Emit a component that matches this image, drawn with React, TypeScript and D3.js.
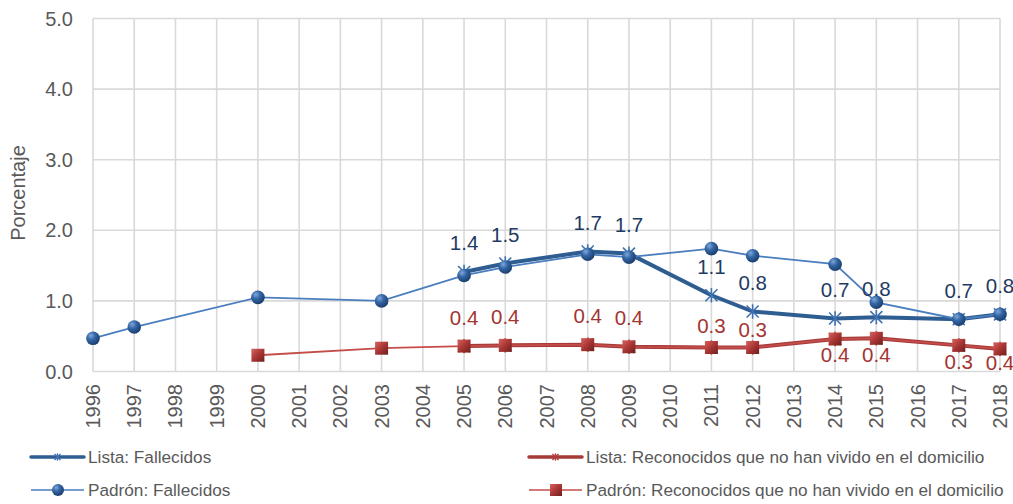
import React from "react";
import * as d3 from "d3";

const years = d3.range(1996, 2019).map(String);
const yTicks = [0, 1, 2, 3, 4, 5];

const listaFallYears = ["2005", "2006", "2008", "2009", "2011", "2012", "2014", "2015", "2017", "2018"];
const listaFallValues = [1.41, 1.53, 1.70, 1.67, 1.08, 0.85, 0.75, 0.77, 0.74, 0.81];
const listaFallLabels = ["1.4", "1.5", "1.7", "1.7", "1.1", "0.8", "0.7", "0.8", "0.7", "0.8"];

const padronFallYears = ["1996", "1997", "2000", "2003", "2005", "2006", "2008", "2009", "2011", "2012", "2014", "2015", "2017", "2018"];
const padronFallValues = [0.47, 0.63, 1.05, 1.0, 1.36, 1.48, 1.66, 1.62, 1.74, 1.64, 1.52, 0.98, 0.74, 0.81];

const listaRecYears = ["2005", "2006", "2008", "2009", "2011", "2012", "2014", "2015", "2017", "2018"];
const listaRecValues = [0.36, 0.37, 0.38, 0.35, 0.34, 0.34, 0.46, 0.47, 0.37, 0.32];
const listaRecLabels = ["0.4", "0.4", "0.4", "0.4", "0.3", "0.3", "0.4", "0.4", "0.3", "0.4"];

const padronRecYears = ["2000", "2003", "2005", "2006", "2008", "2009", "2011", "2012", "2014", "2015", "2017", "2018"];
const padronRecValues = [0.23, 0.33, 0.36, 0.37, 0.38, 0.35, 0.34, 0.34, 0.46, 0.47, 0.37, 0.32];

const FONT = "'Liberation Sans', Arial, sans-serif";

// label placement (pixel offsets of the label centre from its point)
const redLabelDy = [-29, -29, -29, -29, -22, -18, 15, 16, 16, 14];

export default function App() {
  const W = 1013, H = 504;
  const left = 93, right = 1000, top = 18.5, bottom = 371.5;
  const x = d3.scalePoint<string>().domain(years).range([left, right]);
  const y = d3.scaleLinear().domain([0, 5]).range([bottom, top]);

  const line = (ys: string[], vs: number[]) =>
    d3.line<number>().x((_, i) => x(ys[i])!).y((v) => y(v))(vs) || "";

  const star = (cx: number, cy: number, s: number, color: string, w: number, key: string) => (
    <g key={key} stroke={color} strokeWidth={w} fill="none">
      <line x1={cx - s} y1={cy - s} x2={cx + s} y2={cy + s} />
      <line x1={cx - s} y1={cy + s} x2={cx + s} y2={cy - s} />
      <line x1={cx} y1={cy - s * 1.2} x2={cx} y2={cy + s * 1.2} />
    </g>
  );

  const blueLabel = "#1F3B63";
  const redLabel = "#A33533";
  const tickColor = "#595959";

  return (
    <svg width={W} height={H} style={{ position: "absolute", left: 0, top: 0 }}>
      <defs>
        <radialGradient id="ball" cx="35%" cy="30%" r="70%">
          <stop offset="0%" stopColor="#7FA8DA" />
          <stop offset="45%" stopColor="#3466A6" />
          <stop offset="100%" stopColor="#1B3F6E" />
        </radialGradient>
        <linearGradient id="sq" x1="0" y1="0" x2="1" y2="1">
          <stop offset="0%" stopColor="#D8625E" />
          <stop offset="50%" stopColor="#A83634" />
          <stop offset="100%" stopColor="#6E1E1D" />
        </linearGradient>
      </defs>
      <rect width={W} height={H} fill="#fff" />
      {/* grid */}
      <g stroke="#D9D9D9" strokeWidth={1.6}>
        {yTicks.map((t) => (
          <line key={"h" + t} x1={left} x2={right} y1={y(t)} y2={y(t)} />
        ))}
        {years.map((yr) => (
          <line key={"v" + yr} x1={x(yr)} x2={x(yr)} y1={top} y2={bottom} />
        ))}
      </g>
      {/* y ticks */}
      <g fontFamily={FONT} fontSize={20} fill={tickColor} textAnchor="end">
        {yTicks.map((t) => (
          <text key={t} x={73} y={y(t) + 7}>{d3.format(".1f")(t)}</text>
        ))}
      </g>
      <text
        fontFamily={FONT}
        fontSize={20}
        fill={tickColor}
        textAnchor="middle"
        transform={`translate(25, ${193}) rotate(-90)`}
      >
        Porcentaje
      </text>
      {/* x ticks */}
      <g fontFamily={FONT} fontSize={20} fill={tickColor} textAnchor="end">
        {years.map((yr) => (
          <text key={yr} transform={`translate(${x(yr)! + 7}, 384) rotate(-90)`}>{yr}</text>
        ))}
      </g>
      {/* lines */}
      <path d={line(listaFallYears, listaFallValues)} fill="none" stroke="#2E5D91" strokeWidth={4} strokeLinejoin="round" />
      {listaFallYears.map((yr, i) => star(x(yr)!, y(listaFallValues[i]), 6, "#3F72B0", 1.6, "lf" + yr))}
      <path d={line(listaRecYears, listaRecValues)} fill="none" stroke="#A53A38" strokeWidth={4} strokeLinejoin="round" />
      {listaRecYears.map((yr, i) => star(x(yr)!, y(listaRecValues[i]), 6, "#B0403D", 1.6, "lr" + yr))}
      <path d={line(padronFallYears, padronFallValues)} fill="none" stroke="#4A7EBF" strokeWidth={1.8} />
      {padronFallYears.map((yr, i) => (
        <circle key={"pf" + yr} cx={x(yr)} cy={y(padronFallValues[i])} r={6.8} fill="url(#ball)" />
      ))}
      <path d={line(padronRecYears, padronRecValues)} fill="none" stroke="#C44D4A" strokeWidth={1.8} />
      {padronRecYears.map((yr, i) => (
        <rect key={"pr" + yr} x={x(yr)! - 6.5} y={y(padronRecValues[i]) - 6.5} width={13} height={13} fill="url(#sq)" />
      ))}
      {/* labels */}
      <g fontFamily={FONT} fontSize={20.5} fill={blueLabel} textAnchor="middle">
        {listaFallYears.map((yr, i) => (
          <text key={yr} x={x(yr)} y={y(listaFallValues[i]) - 29 + 7.5}>{listaFallLabels[i]}</text>
        ))}
      </g>
      <g fontFamily={FONT} fontSize={20.5} fill={redLabel} textAnchor="middle">
        {listaRecYears.map((yr, i) => (
          <text key={yr} x={x(yr)} y={y(listaRecValues[i]) + redLabelDy[i] + 7.5}>
            {listaRecLabels[i]}
          </text>
        ))}
      </g>
      {/* legend */}
      <g fontFamily={FONT} fontSize={17.2} fill={tickColor}>
        <line x1={31} x2={84} y1={457} y2={457} stroke="#2E5D91" strokeWidth={3.5} strokeLinecap="round" />
        {star(57.5, 457, 3, "#3F72B0", 1.4, "leg1")}
        <text x={88} y={463}>Lista: Fallecidos</text>
        <line x1={31} x2={84} y1={490} y2={490} stroke="#4A7EBF" strokeWidth={1.6} />
        <circle cx={58} cy={490} r={6} fill="url(#ball)" />
        <text x={88} y={496}>Padrón: Fallecidos</text>

        <line x1={529} x2={582} y1={457} y2={457} stroke="#A53A38" strokeWidth={3.5} strokeLinecap="round" />
        {star(555.5, 457, 3, "#B0403D", 1.4, "leg3")}
        <text x={586} y={463}>Lista: Reconocidos que no han vivido en el domicilio</text>
        <line x1={529} x2={582} y1={490} y2={490} stroke="#C44D4A" strokeWidth={1.6} />
        <rect x={550} y={484} width={12} height={12} fill="url(#sq)" />
        <text x={586} y={496}>Padrón: Reconocidos que no han vivido en el domicilio</text>
      </g>
    </svg>
  );
}
